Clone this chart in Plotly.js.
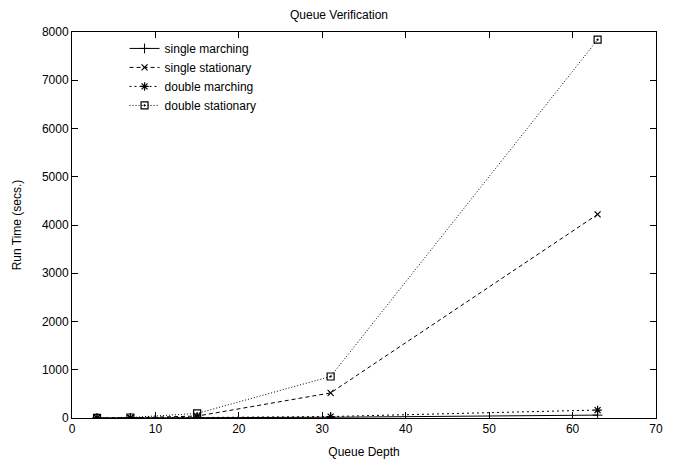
<!DOCTYPE html>
<html>
<head>
<meta charset="utf-8">
<script src="https://cdn.plot.ly/plotly-3.0.1.min.js"></script>
<style>html,body{margin:0;padding:0;background:#fff;}#chart{width:678px;height:461px;}</style>
</head>
<body>
<div id="chart"></div>
<script>
const queueDepth = [3, 7, 15, 31, 63];
const singleMarching = [0.5, 2, 5, 15, 60];
const singleStationary = [1, 5, 40, 520, 4220];
const doubleMarching = [1, 3, 10, 30, 165];
const doubleStationary = [2, 10, 95, 860, 7840];
const seriesNames = ["single marching", "single stationary", "double marching", "double stationary"];

const font = {family: "Liberation Sans, Arial, sans-serif", size: 12, color: "#000"};

const traces = [
  {x: queueDepth, y: singleMarching, name: seriesNames[0], mode: "lines+markers",
   line: {color: "#000", width: 1, dash: "solid"},
   marker: {symbol: "cross-thin-open", size: 7, color: "#000", line: {color: "#000", width: 1}}},
  {x: queueDepth, y: singleStationary, name: seriesNames[1], mode: "lines+markers",
   line: {color: "#000", width: 1, dash: "4px,3px"},
   marker: {symbol: "x-thin-open", size: 6, color: "#000", line: {color: "#000", width: 1.2}}},
  {x: queueDepth, y: doubleMarching, name: seriesNames[2], mode: "lines+markers",
   line: {color: "#000", width: 1, dash: "2px,3px"},
   marker: {symbol: "asterisk-open", size: 7, color: "#000", line: {color: "#000", width: 1.2}}},
  {x: queueDepth, y: doubleStationary, name: seriesNames[3], mode: "lines+markers",
   line: {color: "#000", width: 1, dash: "1px,2px"},
   marker: {symbol: "square-open-dot", size: 7, color: "#000", line: {color: "#000", width: 1.2}}}
];

const axisCommon = {
  showline: true, linecolor: "#000", linewidth: 1, mirror: "ticks",
  ticks: "inside", ticklen: 6, tickcolor: "#000", tickwidth: 1,
  showgrid: false, zeroline: false, tickfont: font
};

const layout = {
  width: 678, height: 461,
  margin: {l: 72, r: 22, t: 32, b: 43},
  paper_bgcolor: "#fff", plot_bgcolor: "#fff",
  font: font,
  title: {text: "Queue Verification", font: {family: font.family, size: 12, color: "#000"}, x: 0.5, xanchor: "center", y: 0.978, yanchor: "top"},
  xaxis: Object.assign({}, axisCommon, {range: [0, 70], dtick: 10, title: {text: "Queue Depth", font: font, standoff: 12}}),
  yaxis: Object.assign({}, axisCommon, {range: [0, 8000], dtick: 1000, title: {text: "Run Time (secs.)", font: font, standoff: 17}}),
  legend: {x: 0.09, y: 0.995, xanchor: "left", yanchor: "top", bgcolor: "rgba(0,0,0,0)", font: font, borderwidth: 0, tracegroupgap: 0},
  showlegend: true
};

Plotly.newPlot("chart", traces, layout, {displayModeBar: false, staticPlot: true});
</script>
</body>
</html>
